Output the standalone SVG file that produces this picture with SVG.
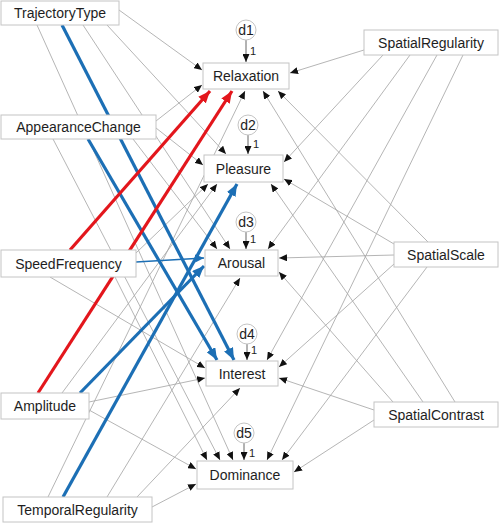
<svg xmlns="http://www.w3.org/2000/svg" width="500" height="524" viewBox="0 0 500 524">
<style>
.box{fill:#fff;stroke:#c4c4c4;stroke-width:1}
.circ{fill:#fff;stroke:#c4c4c4;stroke-width:1}
.t{font-family:"Liberation Sans",Arial,sans-serif;font-size:14px;fill:#1e1e1e;text-anchor:middle}
.td{font-family:"Liberation Sans",Arial,sans-serif;font-size:14px;fill:#1e1e1e;text-anchor:middle}
.tn{font-family:"Liberation Sans",Arial,sans-serif;font-size:11px;fill:#1e1e1e}
.g{fill:none;stroke:#a8a8a8;stroke-width:0.85;marker-end:url(#ag)}
.r{fill:none;stroke:#e3161c;stroke-width:3.2;marker-end:url(#ar)}
.b{fill:none;stroke:#1c6fb5;stroke-width:3.2;marker-end:url(#ab)}
.bt{fill:none;stroke:#1c6fb5;stroke-width:1.6;marker-end:url(#ab2)}
.k{fill:none;stroke:#555;stroke-width:0.9;marker-end:url(#ag)}
</style>
<defs>
<marker id="ag" markerUnits="userSpaceOnUse" markerWidth="9" markerHeight="7" refX="8" refY="3.5" orient="auto"><path d="M0,0 L8,3.5 L0,7 z" fill="#111"/></marker>
<marker id="ar" markerUnits="userSpaceOnUse" markerWidth="13" markerHeight="10" refX="12" refY="5" orient="auto"><path d="M0,0 L12,5 L0,10 z" fill="#e3161c"/></marker>
<marker id="ab" markerUnits="userSpaceOnUse" markerWidth="13" markerHeight="10" refX="12" refY="5" orient="auto"><path d="M0,0 L12,5 L0,10 z" fill="#1c6fb5"/></marker>
<marker id="ab2" markerUnits="userSpaceOnUse" markerWidth="10" markerHeight="8" refX="9" refY="4" orient="auto"><path d="M0,0 L9,4 L0,8 z" fill="#1c6fb5"/></marker>
</defs>
<g id="connectors">
<path class="g" d="M119,10 L202,70"/>
<path class="g" d="M156,121 L202,85"/>
<path class="g" d="M48,497 L245,91"/>
<path class="g" d="M455,402 L263,91"/>
<path class="g" d="M428,242 L278,91"/>
<path class="g" d="M364,50 L290,73"/>
<path class="g" d="M107,25 L226,154"/>
<path class="g" d="M156,128 L203,165"/>
<path class="g" d="M136,253 L208,184"/>
<path class="g" d="M62,393 L217,184"/>
<path class="g" d="M423,402 L271,184"/>
<path class="g" d="M394,244 L284,179"/>
<path class="g" d="M383,55 L284,162"/>
<path class="g" d="M83,25 L230,249"/>
<path class="g" d="M133,139 L217,249"/>
<path class="g" d="M107,497 L240,278"/>
<path class="g" d="M393,402 L279,272"/>
<path class="g" d="M394,255 L279,258"/>
<path class="g" d="M410,55 L268,249"/>
<path class="g" d="M50,277 L205,368"/>
<path class="g" d="M89,402 L205,378"/>
<path class="g" d="M137,497 L240,388"/>
<path class="g" d="M374,410 L279,378"/>
<path class="g" d="M394,264 L279,367"/>
<path class="g" d="M437,55 L267,360"/>
<path class="g" d="M37,25 L233,460"/>
<path class="g" d="M53,139 L220,460"/>
<path class="g" d="M115,277 L207,460"/>
<path class="g" d="M89,410 L196,469"/>
<path class="g" d="M152,507 L196,484"/>
<path class="g" d="M374,420 L294,472"/>
<path class="g" d="M427,267 L282,460"/>
<path class="g" d="M463,55 L267,460"/>
<path class="bt" d="M136,262 L204,258"/>
<path class="b" d="M62,25 L234,360"/>
<path class="b" d="M88,139 L217,360"/>
<path class="b" d="M80,393 L204,266"/>
<path class="b" d="M63,497 L237,184"/>
<path class="r" d="M70,250 L210,91"/>
<path class="r" d="M38,393 L232,91"/>
<path class="k" d="M246,40 L246,62"/>
<path class="k" d="M248,135 L248,154"/>
<path class="k" d="M246,232 L246,249"/>
<path class="k" d="M247,344 L247,360"/>
<path class="k" d="M244,443 L244,460"/>
</g>
<g id="d1"><circle class="circ" cx="246" cy="30" r="10"/><text class="td" x="246" y="35">d1</text><text class="tn" x="250" y="55">1</text></g>
<g id="d2"><circle class="circ" cx="248" cy="125" r="10"/><text class="td" x="248" y="130">d2</text><text class="tn" x="253" y="148">1</text></g>
<g id="d3"><circle class="circ" cx="246" cy="222" r="10"/><text class="td" x="246" y="227">d3</text><text class="tn" x="250" y="243">1</text></g>
<g id="d4"><circle class="circ" cx="247" cy="334" r="10"/><text class="td" x="247" y="339">d4</text><text class="tn" x="251" y="354">1</text></g>
<g id="d5"><circle class="circ" cx="244" cy="433" r="10"/><text class="td" x="244" y="438">d5</text><text class="tn" x="249" y="457">1</text></g>
<g id="TrajectoryType"><rect class="box" x="1" y="1" width="118" height="24"/><text class="t" x="60" y="18">TrajectoryType</text></g>
<g id="AppearanceChange"><rect class="box" x="1" y="115" width="155" height="24"/><text class="t" x="78.5" y="132">AppearanceChange</text></g>
<g id="SpeedFrequency"><rect class="box" x="1" y="250" width="135" height="27"/><text class="t" x="68.5" y="268.5">SpeedFrequency</text></g>
<g id="Amplitude"><rect class="box" x="1" y="393" width="88" height="26"/><text class="t" x="45" y="411">Amplitude</text></g>
<g id="TemporalRegularity"><rect class="box" x="3" y="497" width="149" height="25"/><text class="t" x="77.5" y="514.5">TemporalRegularity</text></g>
<g id="SpatialRegularity"><rect class="box" x="364" y="30" width="134" height="25"/><text class="t" x="431" y="47.5">SpatialRegularity</text></g>
<g id="SpatialScale"><rect class="box" x="394" y="242" width="104" height="25"/><text class="t" x="446" y="259.5">SpatialScale</text></g>
<g id="SpatialContrast"><rect class="box" x="374" y="402" width="124" height="25"/><text class="t" x="436" y="419.5">SpatialContrast</text></g>
<g id="Relaxation"><rect class="box" x="203" y="63" width="86" height="26"/><text class="t" x="246" y="81">Relaxation</text></g>
<g id="Pleasure"><rect class="box" x="204" y="155" width="79" height="27"/><text class="t" x="243.5" y="173.5">Pleasure</text></g>
<g id="Arousal"><rect class="box" x="205" y="250" width="73" height="26"/><text class="t" x="241.5" y="268">Arousal</text></g>
<g id="Interest"><rect class="box" x="206" y="361" width="72" height="25"/><text class="t" x="242" y="378.5">Interest</text></g>
<g id="Dominance"><rect class="box" x="197" y="461" width="96" height="28"/><text class="t" x="245" y="480">Dominance</text></g>
</svg>
